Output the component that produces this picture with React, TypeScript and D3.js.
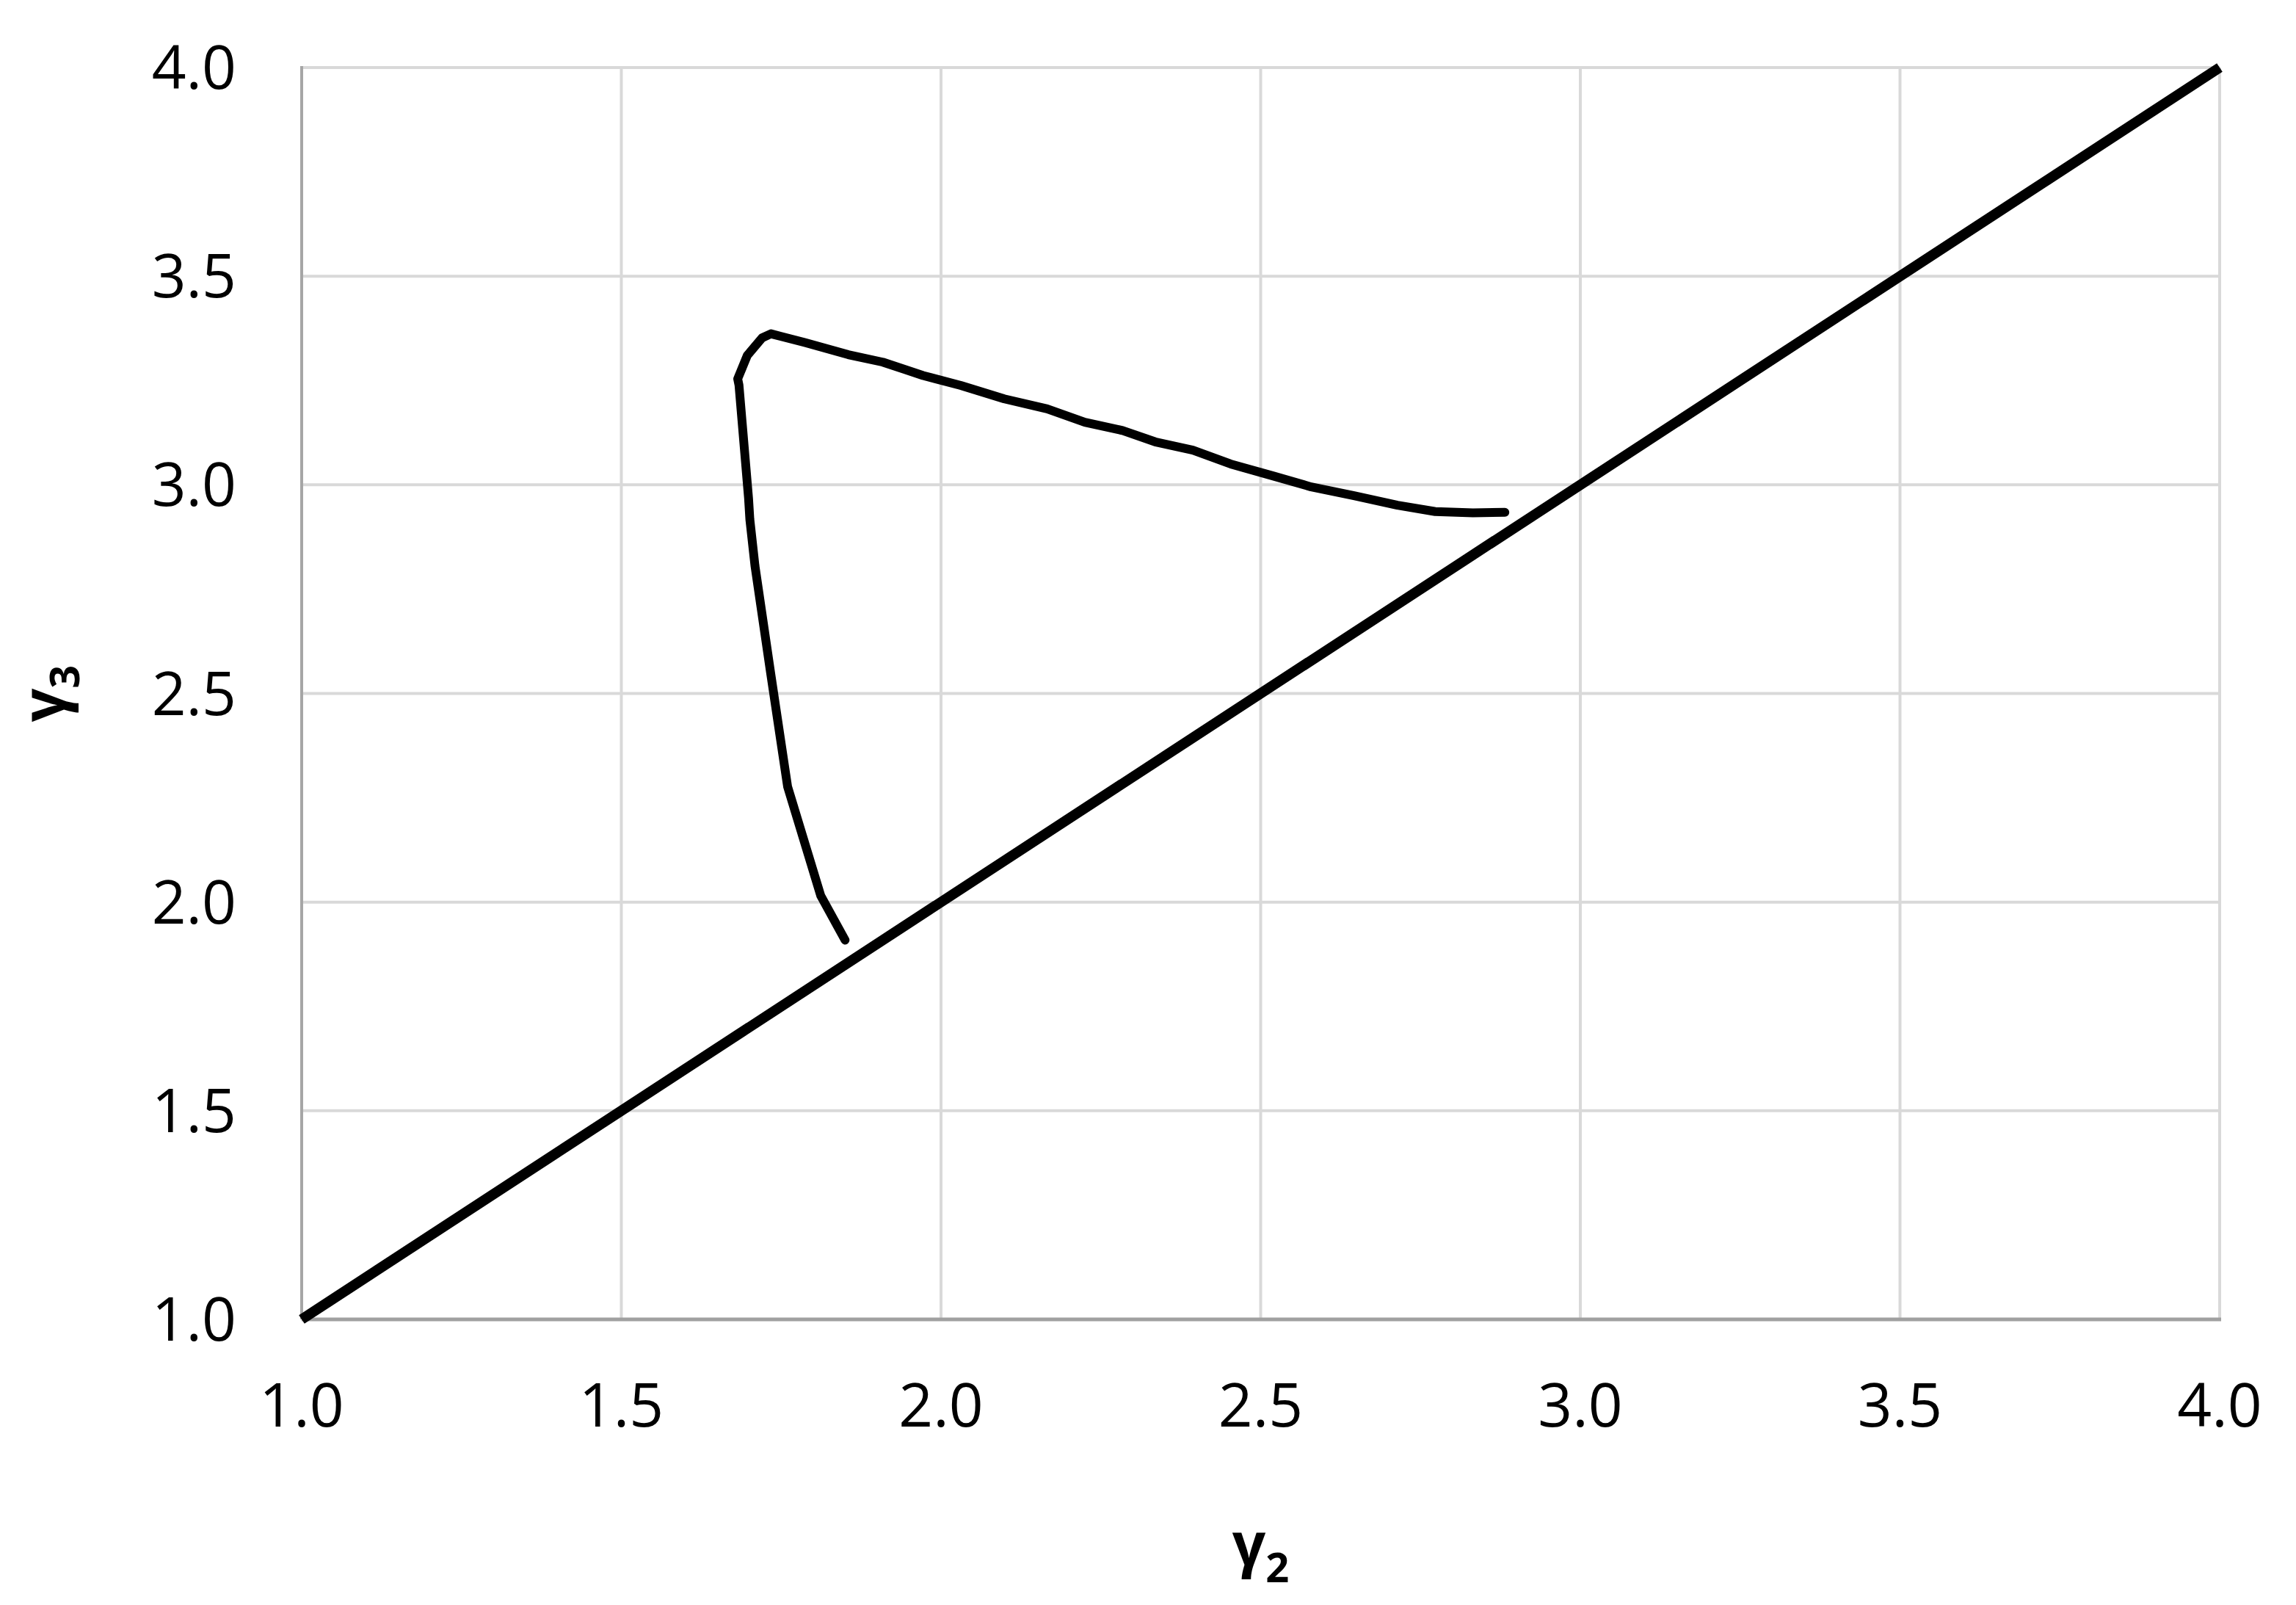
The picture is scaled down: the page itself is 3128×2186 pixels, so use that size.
import React from "react";
import * as d3 from "d3";

// tick values shared by both axes
const ticks = [1.0, 1.5, 2.0, 2.5, 3.0, 3.5, 4.0];

// equality line gamma3 = gamma2
const diagX = [1.0, 4.0];
const diagY = [1.0, 4.0];

// traced curve (gamma2, gamma3)
const curveX = [1.850, 1.812, 1.760, 1.734, 1.709, 1.701, 1.699, 1.684, 1.682, 1.697, 1.720, 1.734,
  1.749, 1.787, 1.855, 1.909, 1.972, 2.031, 2.099, 2.166, 2.225, 2.284, 2.335, 2.394, 2.453,
  2.520, 2.579, 2.646, 2.714, 2.773, 2.832, 2.882];
const curveY = [1.909, 2.015, 2.277, 2.544, 2.806, 2.917, 2.967, 3.239, 3.254, 3.310, 3.352, 3.362,
  3.356, 3.341, 3.312, 3.294, 3.262, 3.238, 3.206, 3.182, 3.150, 3.130, 3.103, 3.083, 3.050,
  3.021, 2.995, 2.974, 2.951, 2.936, 2.933, 2.934];

const W = 3128;
const H = 2186;
const left = 411, right = 3024, top = 92, bottom = 1797;
const font = "'Open Sans', 'DejaVu Sans', sans-serif";

export default function App() {
  const x = d3.scaleLinear().domain([1, 4]).range([left, right]);
  const y = d3.scaleLinear().domain([1, 4]).range([bottom, top]);

  const line = d3.line<[number, number]>()
    .x((d) => x(d[0]))
    .y((d) => y(d[1]))
    .curve(d3.curveLinear);

  const curve: [number, number][] = curveX.map((v, i) => [v, curveY[i]]);
  const diag: [number, number][] = diagX.map((v, i) => [v, diagY[i]]);

  return (
    <svg width={W} height={H} style={{ position: "absolute", left: 0, top: 0, background: "#fff" }}>
      {/* gridlines */}
      {ticks.map((t) => (
        <line key={"gy" + t} x1={left} x2={right} y1={y(t)} y2={y(t)} stroke="#d9d9d9" strokeWidth={4} />
      ))}
      {ticks.map((t) => (
        <line key={"gx" + t} x1={x(t)} x2={x(t)} y1={top} y2={bottom} stroke="#d9d9d9" strokeWidth={4} />
      ))}
      {/* axes */}
      <line x1={left} x2={left} y1={top - 2} y2={bottom} stroke="#a6a6a6" strokeWidth={4} />
      <line x1={left} x2={right + 2} y1={bottom} y2={bottom} stroke="#a0a0a0" strokeWidth={5} />

      {/* tick labels */}
      {ticks.map((t) => (
        <text key={"ty" + t} x={322} y={y(t) + 29} textAnchor="end" fontFamily={font} fontSize={82} fill="#000">
          {d3.format(".1f")(t)}
        </text>
      ))}
      {ticks.map((t) => (
        <text key={"tx" + t} x={x(t)} y={1943} textAnchor="middle" fontFamily={font} fontSize={82} fill="#000">
          {d3.format(".1f")(t)}
        </text>
      ))}

      {/* series */}
      <path d={line(diag) || ""} fill="none" stroke="#000" strokeWidth={14} />
      <path d={line(curve) || ""} fill="none" stroke="#000" strokeWidth={12} strokeLinejoin="round" strokeLinecap="round" />

      {/* axis titles */}
      <text x={(left + right) / 2} y={2132} textAnchor="middle" fontFamily={font} fontWeight="bold" fontSize={80}>
        γ<tspan fontSize={56} dy={23}>2</tspan>
      </text>
      <text transform={`translate(88, ${(top + bottom) / 2}) rotate(-90)`} textAnchor="middle" fontFamily={font} fontWeight="bold" fontSize={80}>
        γ<tspan fontSize={56} dy={20}>3</tspan>
      </text>
    </svg>
  );
}
